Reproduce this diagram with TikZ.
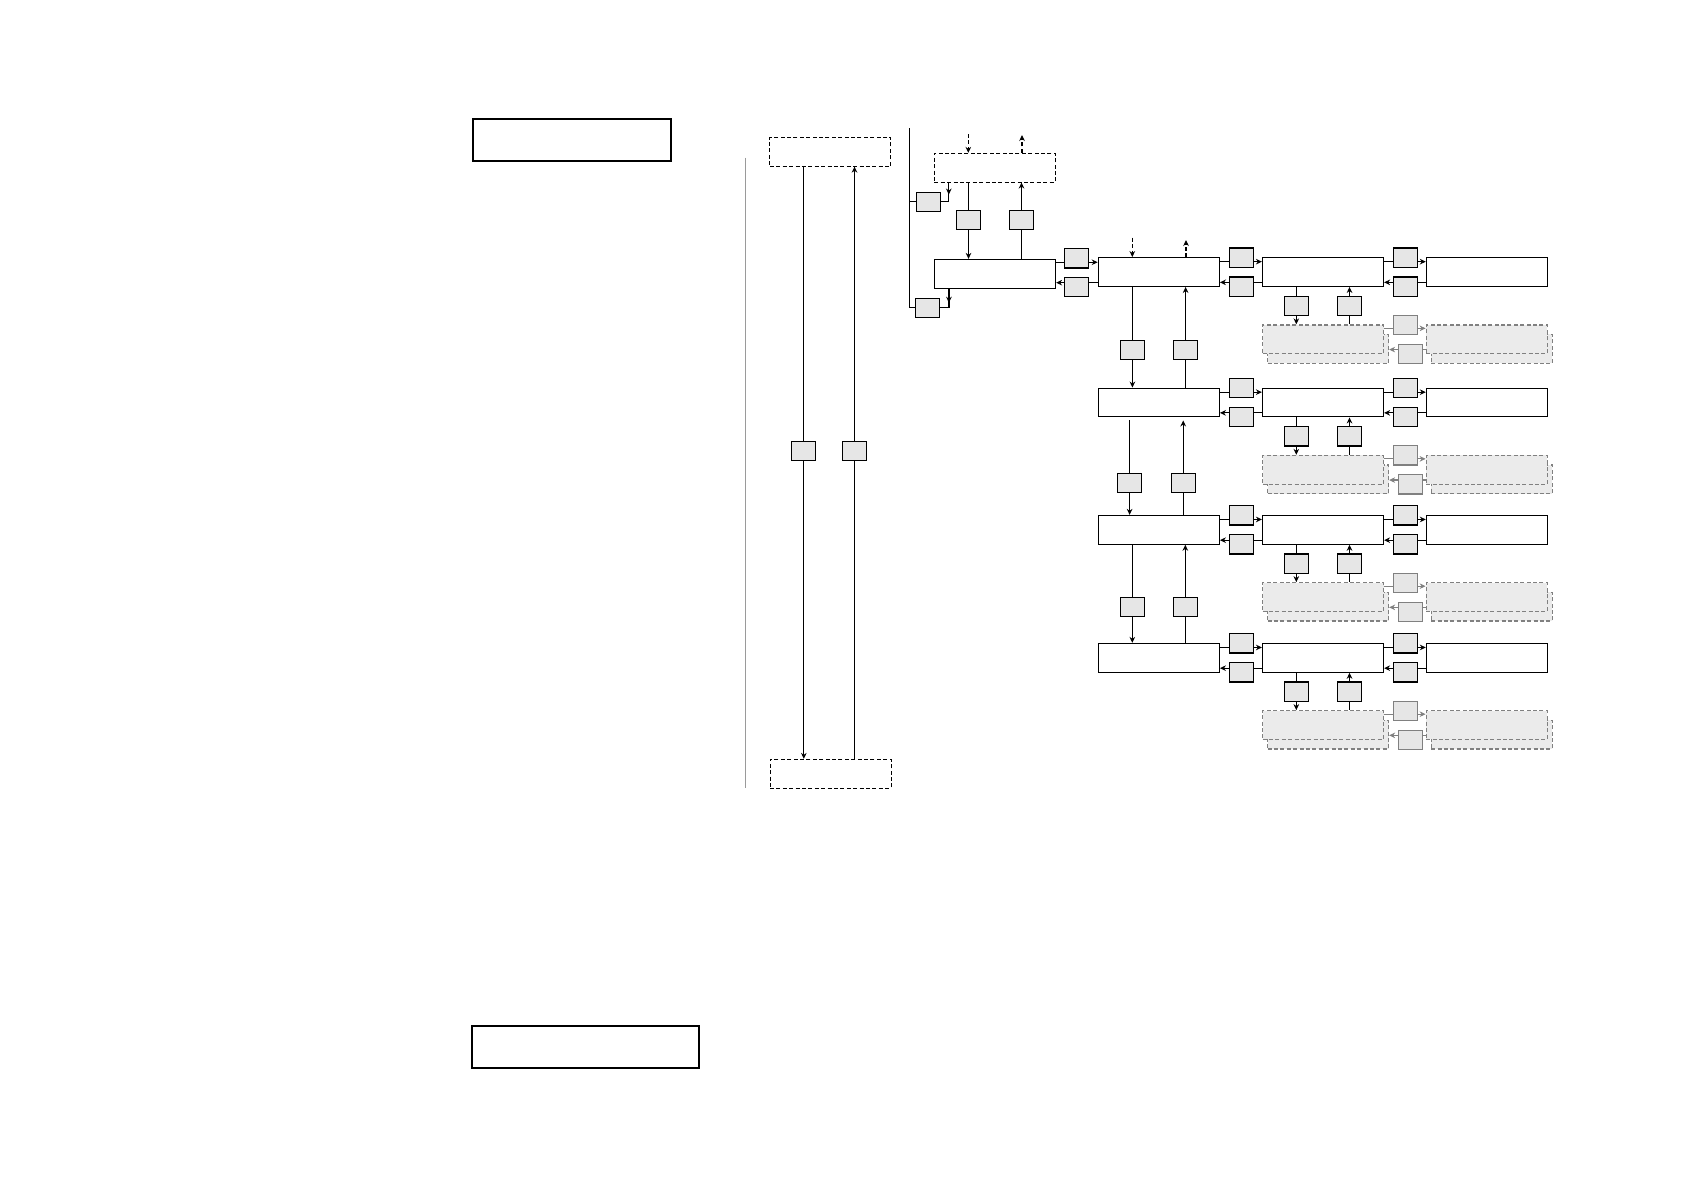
\documentclass[tikz,border=0pt]{standalone}
\usetikzlibrary{arrows.meta,calc}
\pgfdeclarelayer{bg}
\pgfsetlayers{bg,main}
\definecolor{boxgray}{HTML}{E6E6E6}
\definecolor{ghostfill}{HTML}{EBEBEB}
\definecolor{ghostline}{HTML}{808080}
\definecolor{sideline}{HTML}{9A9A9A}
\begin{document}
\begin{tikzpicture}[x=0.5pt,y=-0.5pt,
  base/.style={line width=0.6pt},
  mainbox/.style={base,draw=black,fill=white,minimum width=60.5pt,minimum height=14.35pt,inner sep=0pt},
  dashbox/.style={mainbox,line width=0.5pt,dash pattern=on 2pt off 1.2pt},
  thickbox/.style={draw=black,line width=1.1pt,fill=white,minimum height=21pt,inner sep=0pt},
  smallbox/.style={base,draw=black,fill=boxgray,minimum width=12pt,minimum height=9.6pt,inner sep=0pt},
  ghostbox/.style={base,draw=ghostline,fill=ghostfill,dash pattern=on 2pt off 1.2pt,minimum width=60.5pt,minimum height=14.35pt,inner sep=0pt},
  ghostsmall/.style={base,draw=ghostline,fill=boxgray,minimum width=12pt,minimum height=9.6pt,inner sep=0pt},
  conn/.style={base,draw=black},
  arr/.style={conn,-{Stealth[length=3pt,width=2.8pt]}},
  darr/.style={arr,dash pattern=on 2pt off 1.2pt},
  garr/.style={base,draw=ghostline,-{Stealth[length=3pt,width=2.8pt]}},
]
\useasboundingbox (0,0) rectangle (1684,1190);

% left frame boxes
\node[thickbox,minimum width=99pt] (T1) at (571.8,139.7) {};
\node[thickbox,minimum width=113.5pt] (T2) at (585.5,1046.7) {};
\coordinate (gtop) at (745.5,157.7);
\coordinate (gbot) at (745.5,788.3);

% left column
\node[dashbox] (L1) at (830.4,151.8) {};
\node[dashbox] (L2) at (830.5,773.7) {};
\node[smallbox] (V1) at (803.8,450.8) {};
\node[smallbox] (V2) at (854.5,450.8) {};

% top block
\coordinate (vt) at (909.3,128.3);
\node[dashbox] (TD) at (994.8,167.7) {};
\node[mainbox] (M1) at (995,273.8) {};
\node[smallbox] (S1) at (928.5,201.8) {};
\node[smallbox] (S2) at (927.5,307.8) {};
\node[smallbox] (DA) at (968.5,219.7) {};
\node[smallbox] (UA) at (1021.5,219.7) {};
\coordinate (din) at (968.3,134);
\coordinate (dout) at (1022,135);
\node[smallbox] (HA) at (1076.5,258.3) {};
\node[smallbox] (HB) at (1076.5,287.2) {};
\coordinate (bin) at (1132.3,237.7);
\coordinate (bout) at (1186,240);

% rows
\foreach \i/\y in {1/272,2/402.5,3/529.8,4/657.8}{
  \node[mainbox] (B\i) at (1158.8,\y) {};
  \node[mainbox] (C\i) at (1323,\y) {};
  \node[mainbox] (D\i) at (1486.9,\y) {};
  \node[smallbox] (BCu\i) at (1241.2,\y-14.35) {};
  \node[smallbox] (BCl\i) at (1241.3,\y+14.6) {};
  \node[smallbox] (CDu\i) at (1405.5,\y-14.35) {};
  \node[smallbox] (CDl\i) at (1405.5,\y+14.6) {};
  \node[smallbox] (CD\i) at (1296.3,\y+33.8) {};
  \node[smallbox] (CU\i) at (1349.5,\y+33.8) {};
  \node[ghostbox] (Es\i) at (1328,\y+76.8) {};
  \node[ghostbox] (E\i) at (1323,\y+67.3) {};
  \node[ghostbox] (Fs\i) at (1491.7,\y+76.8) {};
  \node[ghostbox] (F\i) at (1486.7,\y+67.3) {};
  \node[ghostsmall] (GU\i) at (1405.5,\y+52.95) {};
  \node[ghostsmall] (GL\i) at (1410.3,\y+81.9) {};
}
\foreach \i/\xa/\xb/\y in {1/1132.4/1185.6/349.7,2/1129.6/1183.2/482.8,3/1132.3/1185.3/607}{
  \node[smallbox] (BD\i) at (\xa,\y) {};
  \node[smallbox] (BU\i) at (\xb,\y) {};
}

\begin{pgfonlayer}{bg}
\draw[draw=sideline,line width=0.7pt] (gtop) -- (gbot);
\draw[arr] (V1 |- L1.south) -- (V1 |- L2.north);
\draw[arr] (V2 |- L2.north) -- (V2 |- L1.south);
\draw[conn] (vt) -- (vt |- S2.west) -- (S2.west);
\draw[conn] (S1.west -| vt) -- (S1.west);
\coordinate (k1) at ($(TD.south west)+(15,0)$);
\draw[arr] (k1) -- ++(0,12);
\draw[conn] (k1) |- (S1.east);
\coordinate (k2) at ($(M1.south west)+(15,0)$);
\draw[arr] (k2) -- ++(0,14);
\draw[conn] (k2) |- (S2.east);
\draw[arr] (DA |- TD.south) -- (DA |- M1.north);
\draw[arr] (UA |- M1.north) -- (UA |- TD.south);
\draw[darr] (din) -- (din |- TD.north);
\draw[darr] (dout |- TD.north) -- (dout);
\coordinate (ma) at ($(M1.north east)+(0,3.4)$);
\draw[arr] (ma) -- (ma -| B1.west);
\coordinate (mb) at ($(B1.south west)+(0,-4.3)$);
\draw[arr] (mb) -- (mb -| M1.east);
\draw[darr] (bin) -- (bin |- B1.north);
\draw[darr] (bout |- B1.north) -- (bout);
\foreach \i in {1,2,3,4}{
  \coordinate (p\i) at ($(B\i.north east)+(0,4.6)$);
  \draw[arr] (p\i) -- (p\i -| C\i.west);
  \coordinate (q\i) at ($(C\i.south west)+(0,-4.6)$);
  \draw[arr] (q\i) -- (q\i -| B\i.east);
  \coordinate (r\i) at ($(C\i.north east)+(0,4.6)$);
  \draw[arr] (r\i) -- (r\i -| D\i.west);
  \coordinate (s\i) at ($(D\i.south west)+(0,-4.6)$);
  \draw[arr] (s\i) -- (s\i -| C\i.east);
  \draw[arr] (CD\i |- C\i.south) -- (CD\i |- E\i.north);
  \draw[arr] (CU\i |- E\i.north) -- (CU\i |- C\i.south);
  \coordinate (t\i) at ($(E\i.north east)+(0,4)$);
  \draw[garr] (t\i) -- (t\i -| F\i.west);
  \coordinate (u\i) at ($(F\i.south west)+(0,-4.7)$);
  \draw[garr] (u\i) -- (u\i -| Es\i.east);
}
\foreach \i/\j/\g in {1/2/0pt,2/3/1.5pt,3/4/0pt}{
  \draw[arr,shorten <=\g] (BD\i |- B\i.south) -- (BD\i |- B\j.north);
  \draw[arr,shorten >=\g] (BU\i |- B\j.north) -- (BU\i |- B\i.south);
}
\end{pgfonlayer}
\end{tikzpicture}
\end{document}
